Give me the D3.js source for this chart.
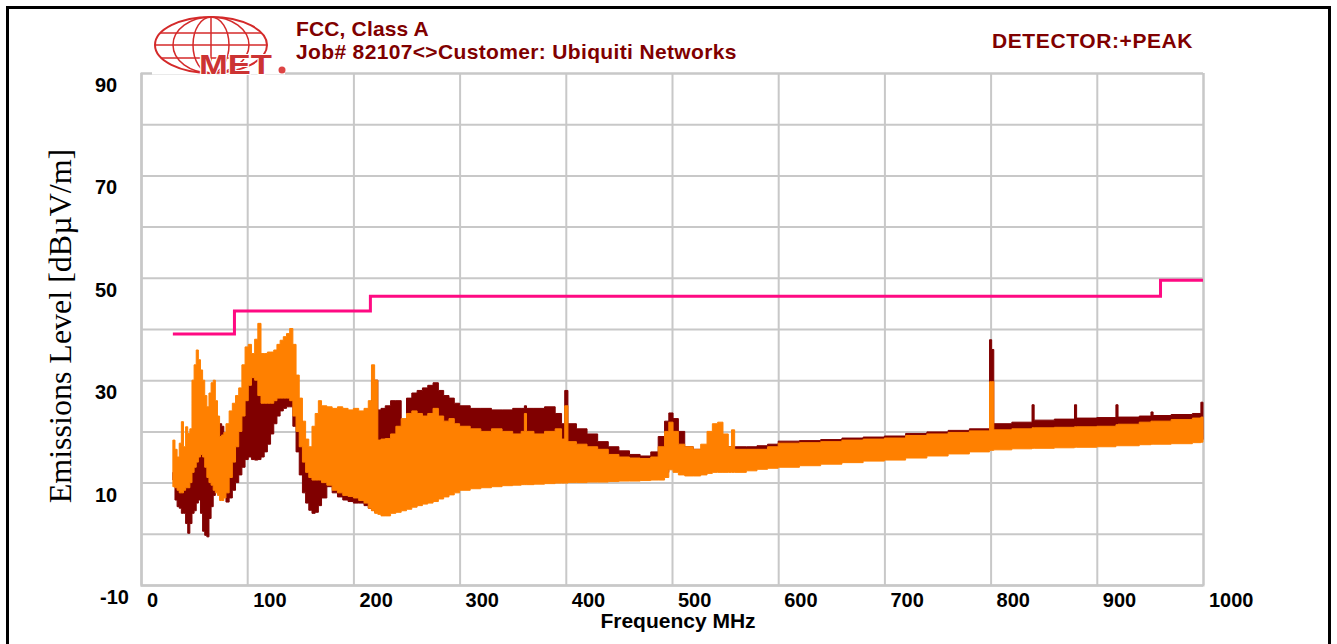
<!DOCTYPE html>
<html><head><meta charset="utf-8">
<script src="https://cdn.jsdelivr.net/npm/d3@7"></script>
<style>body{margin:0;background:#fff;overflow:hidden}</style>
</head><body><svg id="chart" width="1337" height="644"></svg>
<script>
// ---- data ----
const freq = [30,32,34,36,38,40,42,44,46,48,50,52,54,56,58,60,62,64,66,68,70,72,74,76,78,80,83,86,89,92,95,98,101,104,107,110,113,116,119,122,125,128,131,134,137,140,143,146,149,152,155,158,161,164,167,170,175,180,185,190,195,200,205,210,214,217,220,223,226,230,235,240,245,250,255,260,265,270,275,280,285,290,295,300,310,320,330,340,350,358,361,363,370,380,390,396,399,402,410,420,430,440,450,460,470,480,487,493,497,501,506,512,520,527,533,538,543,548,553,556,559,570,580,590,600,620,640,660,680,700,720,740,760,780,799,801,803,820,839,841,860,879,881,900,918,920,940,951,953,970,990,998,1000];
const vertTop = [18.3,16.5,15,17.7,21.9,17,20.9,19.6,20.5,30,33,35.9,34,32,30,27,24.8,27.5,29.5,30,26,23,19,19.3,19.8,21.5,24,25.5,27,28.5,33,36.5,37,35.2,38,41.1,35.2,35.2,35.5,35.5,35.9,37,37.8,38.5,39.1,40.1,37,31,26.5,22,18.5,17,21,23.5,26,25,24.8,24.5,24.8,24.5,24.2,24.5,24,24.5,26,33,30,18.3,18.5,18.6,19.5,21,22.5,23.5,24,23.5,23,23.5,24.5,23,22,22.5,21.5,21,20.5,20,20.5,20,19.5,20,23.5,20,19.5,20,20.5,18.5,25,18,17.5,17,16.5,15.5,15,14.8,14.7,15,17,20,21.8,20,17.5,17,16.5,17.5,20,21.5,21.8,19.5,17,20.3,16.5,16.5,16.5,17,17.7,17.8,18,18.3,18.5,18.7,19.2,19.5,19.8,20.1,29.7,29.7,20.3,20.5,20.7,20.7,20.8,20.9,20.9,21,21.3,21.4,21.8,22,22,22.3,22.6,22.8,22.8];
const vertBot = [9.2,9,8.5,8,8,8.5,9,9,10,12,13,14,15,15.5,15,13,11,10,9.5,8.5,8,7.5,6.5,6.5,7,8,11,14,17,20,23,26,29,30.5,30,27,25.5,25.5,25.5,25.5,26,26.5,26.5,26.5,26.5,26,23,20,17,14,12,11,10.5,10.5,10.5,10,9.5,8.5,8,7.5,7.3,7,6.5,6,5,4.5,4,3.8,3.5,3.5,4,4.2,4.5,4.8,5.2,5.5,5.8,6,6.3,6.8,7.2,7.6,8,8.5,8.8,9,9.2,9.4,9.5,9.6,9.6,9.6,9.7,9.8,9.9,9.9,9.9,10,10,10.1,10.1,10.2,10.3,10.3,10.4,10.5,10.5,11,12.5,12,11.5,11.3,11.3,11.5,11.8,12,12,12,12,12,12,12.3,12.6,12.8,13,13.3,13.6,13.9,14.2,14.4,14.8,15.2,15.6,16,16.3,16.3,16.4,16.6,16.7,16.7,16.8,16.9,16.9,17,17.2,17.2,17.4,17.5,17.5,17.6,17.8,17.9,17.9];
const horizTop = [12,12,13,13,14,13,14,14,15,17,18,20,20,19,18,17,16,17,18,19,20,21,21.5,21,19,17,17,19,21,23,26,28,30.5,31,31,30,29,29,29,29,29.5,30,30,30,30,30,29,26,22,18,15,13,13.5,14,14.5,14,15,15,15.5,16,16,17,18,19,22,30,30,24.2,24.5,25,26,26,22,26.5,27.5,28,28.5,29,29.5,28,27,26.5,25.5,25,24.5,24.5,24.2,24.2,24.5,24.5,25,24.5,24.5,24.8,23.5,21.5,28,21.5,20.5,19.5,18,17,16.2,15.5,15.2,16,19,22,23.6,22.5,20,17,16.5,16.5,16.7,16.8,16.9,17,17,17,17,17,17.2,17.5,18.1,18.2,18.4,18.7,18.9,19.1,19.6,19.9,20.2,20.5,37.9,36,21.5,21.8,25.2,22.2,22.4,25.2,22.6,22.7,25.2,22.8,23,23.8,23.1,23.3,23.5,25.7,25.7];
const horizBot = [10.5,6.6,5.3,5,4,4,2,0.1,2,4,4.5,6,6.6,4,0.5,-0.3,-0.6,3,5.3,7.5,9.2,8.8,8.6,7.8,7.3,6.2,7,8.5,10,11.5,13,14.5,15,14.5,14.4,14.5,15,16,17.5,19.5,21.5,23,24,24.5,24.8,24.8,21,16,11.5,8,6,4.6,4,4.2,5.5,7,9.2,8,7.2,6.6,6.3,6,6,5.5,5,4.6,4.2,4.5,4.5,4.5,5,5.2,5.5,5.8,6.2,6.5,6.8,7,7.3,7.8,8.2,8.6,9,9.5,9.8,10,10.2,10.4,10.5,10.6,10.6,10.6,10.7,10.8,10.9,10.9,10.9,11,11,11.1,11.1,11.2,11.3,11.3,11.4,11.5,11.5,12,13,12.8,12.3,12,12,12,12.3,12.5,12.5,12.5,12.5,12.5,12.5,12.8,13,13.2,13.5,13.8,14.1,14.4,14.7,14.9,15.3,15.7,16.1,16.5,16.8,16.8,16.9,17.1,17.2,17.2,17.3,17.4,17.4,17.5,17.7,17.7,17.9,18,18,18.1,18.3,18.4,18.4];
const limitFreq = [30, 88, 216, 960, 1000];
const limitLevel = [39.0, 43.5, 46.4, 49.5, 49.5];
const xTicks = [0,100,200,300,400,500,600,700,800,900,1000];
const yTicks = [-10,10,30,50,70,90];
const yGrid = [-10,0,10,20,30,40,50,60,70,80,90];
const titleLines = ["FCC, Class A", "Job# 82107<>Customer: Ubiquiti Networks"];
const detectorText = "DETECTOR:+PEAK";
const xTitle = "Frequency MHz";
const yTitle = "Emissions Level [dBµV/m]";

// ---- drawing ----
const svg = d3.select("#chart");
const L = 141, R = 1203, T = 73, B = 585;
const x = d3.scaleLinear().domain([0, 1000]).range([L, R]);
const y = d3.scaleLinear().domain([-10, 90]).range([B, T]);
const gridColor = "#c8c8c8";
const sans = "'Liberation Sans', Arial, sans-serif";

// outer frame
svg.append("rect").attr("x", 7.5).attr("y", 7.5).attr("width", 1322).attr("height", 660)
  .attr("fill", "#fff").attr("stroke", "#000").attr("stroke-width", 3);

// grid via axes
const gx = svg.append("g").attr("transform", `translate(0,${B})`)
  .call(d3.axisBottom(x).tickValues(xTicks).tickSize(-(B - T)).tickFormat(""));
const gy = svg.append("g").attr("transform", `translate(${L},0)`)
  .call(d3.axisLeft(y).tickValues(yGrid).tickSize(-(R - L)).tickFormat(""));
[gx, gy].forEach(g => {
  g.select(".domain").attr("stroke", gridColor).attr("stroke-width", 2);
  g.selectAll(".tick line").attr("stroke", gridColor).attr("stroke-width", 2);
});

// data series
const pts = (top, bot) => freq.map((f, i) => ({f, t: top[i], b: bot[i]}));
const area = d3.area().curve(d3.curveStepAfter)
  .x(d => x(d.f)).y0(d => y(d.b)).y1(d => y(d.t));
svg.append("path").datum(pts(horizTop, horizBot)).attr("d", area)
  .attr("fill", "#800000").attr("stroke", "#800000").attr("stroke-width", 1);
svg.append("path").datum(pts(vertTop, vertBot)).attr("d", area)
  .attr("fill", "#ff8000").attr("stroke", "#ff8000").attr("stroke-width", 1);

// limit line
const limitPts = limitFreq.map((f, i) => [f, limitLevel[i]]);
svg.append("path").datum(limitPts)
  .attr("d", d3.line().curve(d3.curveStepAfter).x(d => x(d[0])).y(d => y(d[1])))
  .attr("fill", "none").attr("stroke", "#ff0a82").attr("stroke-width", 3);

// tick labels
svg.append("g").selectAll("text").data(xTicks).join("text")
  .attr("x", d => x(d) + 6).attr("y", 607)
  .attr("font-family", sans).attr("font-weight", "bold").attr("font-size", 20)
  .attr("fill", "#000").text(d => d);
svg.append("g").selectAll("text").data(yTicks).join("text")
  .attr("x", d => d < 0 ? 100 : 95).attr("y", d => y(d) + 19)
  .attr("font-family", sans).attr("font-weight", "bold").attr("font-size", 20)
  .attr("fill", "#000").text(d => d);

// axis titles
svg.append("text").attr("x", 678).attr("y", 628).attr("text-anchor", "middle")
  .attr("font-family", sans).attr("font-weight", "bold").attr("font-size", 21)
  .attr("fill", "#000").text(xTitle);
svg.append("text").attr("transform", "translate(71,326) rotate(-90)").attr("text-anchor", "middle")
  .attr("font-family", "'Liberation Serif', 'Times New Roman', serif").attr("font-size", 32)
  .attr("fill", "#000").text(yTitle);

// titles
svg.append("g").selectAll("text").data(titleLines).join("text")
  .attr("x", 296).attr("y", (d, i) => 36 + i * 22.5)
  .attr("font-family", sans).attr("font-weight", "bold").attr("font-size", 21)
  .attr("letter-spacing", (d, i) => i ? 0.35 : 0.15)
  .attr("fill", "#800000").text(d => d);
svg.append("text").attr("x", 992).attr("y", 48)
  .attr("font-family", sans).attr("font-weight", "bold").attr("font-size", 21)
  .attr("letter-spacing", 0.6)
  .attr("fill", "#800000").text(detectorText);

// logo
const logo = svg.append("g");
logo.append("rect").attr("x", 152).attr("y", 10).attr("width", 133).attr("height", 64.5).attr("fill", "#fff");
const cx = 211, cy = 45, rx = 56, ry = 28, red = "#d42a2a";
logo.append("ellipse").attr("cx", cx).attr("cy", cy).attr("rx", rx).attr("ry", ry)
  .attr("fill", "none").attr("stroke", red).attr("stroke-width", 2);
[38, 18].forEach(r => logo.append("ellipse").attr("cx", cx).attr("cy", cy).attr("rx", r).attr("ry", ry)
  .attr("fill", "none").attr("stroke", red).attr("stroke-width", 1.5));
logo.append("line").attr("x1", cx).attr("x2", cx).attr("y1", cy - ry).attr("y2", cy + ry)
  .attr("stroke", red).attr("stroke-width", 1.5);
[-12, 0, 13].forEach(dy => {
  const hw = rx * Math.sqrt(1 - (dy / ry) ** 2);
  logo.append("line").attr("x1", cx - hw).attr("x2", cx + hw).attr("y1", cy + dy).attr("y2", cy + dy)
    .attr("stroke", red).attr("stroke-width", 1.5);
});
logo.append("text").attr("x", 199).attr("y", 74).attr("textLength", 73).attr("lengthAdjust", "spacingAndGlyphs")
  .attr("font-family", sans).attr("font-weight", "bold").attr("font-size", 28)
  .attr("fill", "#cc3333").attr("stroke", "#fff").attr("stroke-width", 2).attr("paint-order", "stroke")
  .text("MET");
logo.append("circle").attr("cx", 282).attr("cy", 70).attr("r", 3.5).attr("fill", "#dd4444");
</script></body></html>
